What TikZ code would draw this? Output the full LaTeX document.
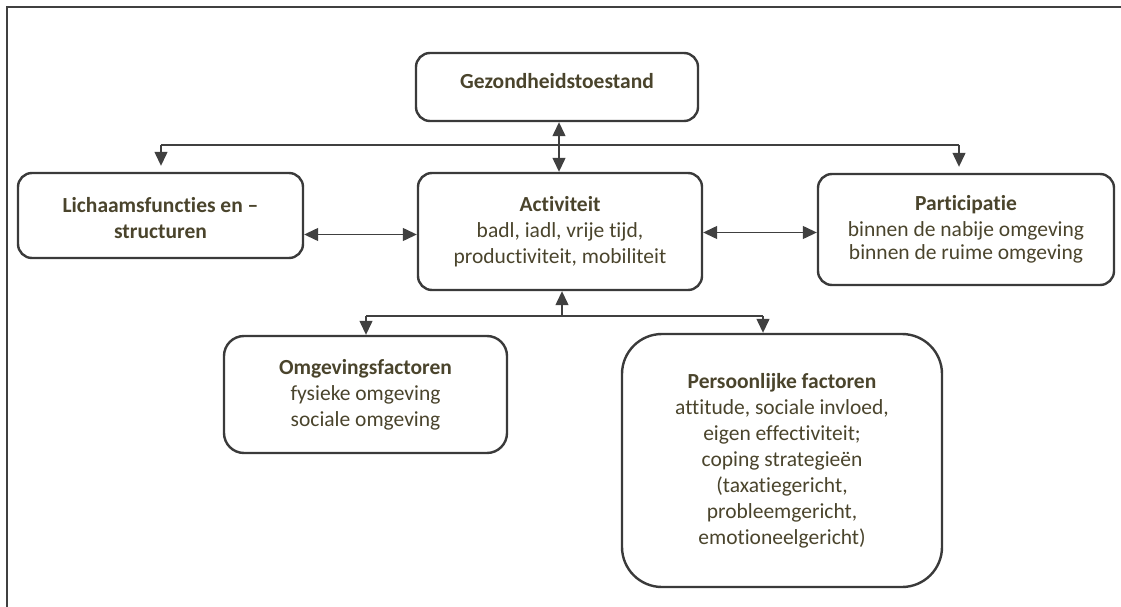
\documentclass[tikz,border=0pt]{standalone}
\usepackage{fontspec}
\setmainfont{Carlito}[Ligatures={NoCommon}]
\usetikzlibrary{arrows.meta}
\definecolor{txt}{RGB}{74,68,44}
\definecolor{edge}{RGB}{58,58,58}
\definecolor{wire}{RGB}{64,64,64}
% raise text without changing the space it takes
\newcommand{\lift}[2]{\raisebox{#1}[\height][\depth]{#2}}
\tikzset{
  box/.style={draw=edge, line width=2.4pt, rounded corners=#1, align=center,
    inner sep=0pt, text=txt, font=\fontsize{21.5}{26}\selectfont},
  box/.default=14pt,
  wire/.style={draw=wire, line width=1.3pt},
  tip/.style={wire, -{Triangle[length=14pt,width=13pt]}},
  twotip/.style={wire, {Triangle[length=14pt,width=13pt]}-{Triangle[length=14pt,width=13pt]}},
}
\begin{document}
\begin{tikzpicture}[x=1pt,y=-1pt]
\useasboundingbox (0,0) rectangle (1121,607);
% page frame
\draw[draw=wire, line width=1.6pt] (7,607) -- (7,7) -- (1121,7);

% boxes
\node[box, minimum width=282pt, minimum height=68pt] (gez) at (557,87)
  {\lift{6pt}{\textbf{Gezondheidstoestand}}};
\node[box, minimum width=285pt, minimum height=85pt] (lich) at (160.5,215.5)
  {\lift{-3pt}{\textbf{Lichaamsfuncties en –}}\\\lift{-3pt}{\textbf{structuren}}};
\node[box, minimum width=284pt, minimum height=117pt] (act) at (560,231.5)
  {\textbf{Activiteit}\\badl, iadl, vrije tijd,\\productiviteit, mobiliteit};
\node[box, minimum width=296pt, minimum height=111pt] (part) at (966,229.5)
  {\textbf{Participatie}\\binnen de nabije omgeving\\[-3pt]binnen de ruime omgeving};
\node[box=20pt, minimum width=283pt, minimum height=117pt] (omg) at (365.5,394.5)
  {\textbf{Omgevingsfactoren}\\fysieke omgeving\\sociale omgeving};
\node[box=40pt, minimum width=320pt, minimum height=253pt] (pers) at (782,460.5)
  {\textbf{Persoonlijke factoren}\\attitude, sociale invloed,\\eigen effectiviteit;\\coping strategieën\\(taxatiegericht,\\probleemgericht,\\emotioneelgericht)};

% upper distribution line
\coordinate (busL) at (161,145);
\coordinate (busR) at (959,145);
\draw[wire] (busL) -- (busR);
\draw[tip, shorten >=6pt] (busL) -- (busL |- lich.north);
\draw[tip, shorten >=6pt] (busR) -- (busR |- part.north);
\draw[twotip] (act.north -| 559,0) -- (gez.south -| 559,0);

% side links
\draw[twotip] ([yshift=-19pt]lich.east) -- ([yshift=-19pt]lich.east -| act.west);
\draw[twotip] ([yshift=-1pt]act.east) -- ([yshift=-1pt]act.east -| part.west);

% lower distribution line
\coordinate (lowL) at (366,316);
\coordinate (lowM) at (562,316);
\coordinate (lowR) at (763,316);
\draw[wire] (lowL) -- (lowR);
\draw[tip] (lowM) -- (lowM |- act.south);
\draw[tip] (lowL) -- (lowL |- omg.north);
\draw[tip] (lowR) -- (lowR |- pers.north);
\end{tikzpicture}
\end{document}
